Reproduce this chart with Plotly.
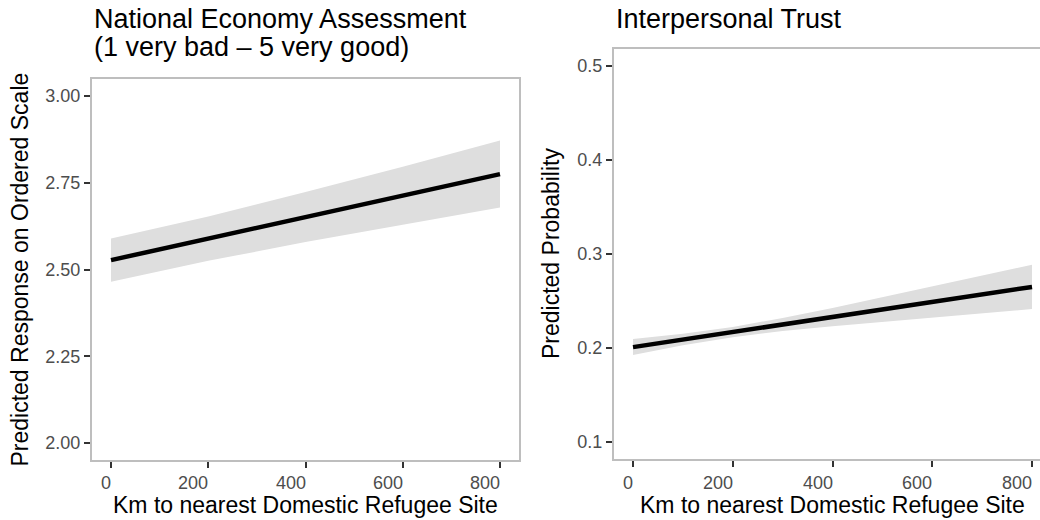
import plotly.graph_objects as go

# Predicted national economy assessment (ordered scale) by distance
econ_km = [0, 200, 400, 600, 800]
econ_fit = [2.527, 2.589, 2.651, 2.713, 2.775]
econ_lo = [2.465, 2.525, 2.579, 2.630, 2.679]
econ_hi = [2.589, 2.653, 2.723, 2.796, 2.872]

# Predicted probability of interpersonal trust by distance
trust_km = [0, 100, 200, 300, 400, 500, 600, 700, 800]
trust_fit = [0.201, 0.209, 0.217, 0.225, 0.233, 0.241, 0.249, 0.257, 0.265]
trust_lo = [0.1925, 0.2029, 0.2116, 0.2180, 0.2233, 0.2280, 0.2326, 0.2371, 0.2415]
trust_hi = [0.2095, 0.2151, 0.2224, 0.2320, 0.2427, 0.2540, 0.2654, 0.2769, 0.2885]

x_ticks = [0, 200, 400, 600, 800]
x_tick_text = ["0", "200", "400", "600", "800"]
econ_ticks = [2.00, 2.25, 2.50, 2.75, 3.00]
econ_tick_text = ["2.00", "2.25", "2.50", "2.75", "3.00"]
trust_ticks = [0.1, 0.2, 0.3, 0.4, 0.5]
trust_tick_text = ["0.1", "0.2", "0.3", "0.4", "0.5"]

FONT = "Liberation Sans, Arial, Helvetica, sans-serif"
RIBBON = "#DEDEDE"
BORDER = "#BEBEBE"
W, H = 1040, 520

fig = go.Figure()


def add_panel(x, fit, lo, hi, xa, ya):
    fig.add_trace(go.Scatter(x=x, y=lo, mode="lines", line=dict(width=0),
                             xaxis=xa, yaxis=ya, hoverinfo="skip", showlegend=False))
    fig.add_trace(go.Scatter(x=x, y=hi, mode="lines", line=dict(width=0),
                             fill="tonexty", fillcolor=RIBBON,
                             xaxis=xa, yaxis=ya, hoverinfo="skip", showlegend=False))
    fig.add_trace(go.Scatter(x=x, y=fit, mode="lines", line=dict(color="black", width=4.5),
                             xaxis=xa, yaxis=ya, showlegend=False))


add_panel(econ_km, econ_fit, econ_lo, econ_hi, "x", "y")
add_panel(trust_km, trust_fit, trust_lo, trust_hi, "x2", "y2")

tickfont = dict(family=FONT, size=18, color="#4D4D4D")
common = dict(showgrid=False, zeroline=False, ticks="outside", ticklen=6, tickwidth=2,
              tickcolor="#333333", showline=True, linecolor=BORDER, linewidth=2,
              tickfont=tickfont)

fig.update_layout(
    width=W, height=H,
    margin=dict(l=0, r=0, t=0, b=0),
    paper_bgcolor="white", plot_bgcolor="white",
    xaxis=dict(domain=[92 / W, 519 / W], range=[-39.1, 839.1], tickvals=x_ticks,
               showticklabels=False, mirror=True, anchor="y", **common),
    yaxis=dict(domain=[1 - 460 / H, 1 - 79 / H], range=[1.951, 3.049],
               tickvals=econ_ticks, ticktext=econ_tick_text, mirror=True,
               anchor="x", **common),
    xaxis2=dict(domain=[614 / W, 1.0], range=[-38.1, 816], tickvals=x_ticks,
                showticklabels=False, mirror=True, anchor="y2", **common),
    yaxis2=dict(domain=[1 - 459 / H, 1 - 49 / H], range=[0.082, 0.518],
                tickvals=trust_ticks, ticktext=trust_tick_text, anchor="x2", **common),
)

title_font = dict(family=FONT, size=27, color="black")
axis_font = dict(family=FONT, size=23, color="black")

annotations = [
    dict(text="National Economy Assessment", x=92 / W, y=1 - 36 / H,
         xanchor="left", yanchor="bottom", font=title_font),
    dict(text="(1 very bad \u2013 5 very good)", x=92 / W, y=1 - 64 / H,
         xanchor="left", yanchor="bottom", font=title_font),
    dict(text="Interpersonal Trust", x=614 / W, y=1 - 36 / H,
         xanchor="left", yanchor="bottom", font=title_font),
    dict(text="Km to nearest Domestic Refugee Site", x=305.5 / W, y=1 - 505 / H,
         xanchor="center", yanchor="middle", font=axis_font),
    dict(text="Km to nearest Domestic Refugee Site", x=832 / W, y=1 - 505 / H,
         xanchor="center", yanchor="middle", font=axis_font),
    dict(text="Predicted Response on Ordered Scale", x=19 / W, y=1 - 269.5 / H,
         xanchor="center", yanchor="middle", textangle=-90, font=axis_font),
    dict(text="Predicted Probability", x=551 / W, y=1 - 254 / H,
         xanchor="center", yanchor="middle", textangle=-90, font=axis_font),
]
for a in annotations:
    a.update(xref="paper", yref="paper")

# x tick labels sit right-aligned against their tick marks
for xref in ("x", "x2"):
    for v, t in zip(x_ticks, x_tick_text):
        annotations.append(dict(text=t, x=v, xref=xref, y=1 - 483 / H, yref="paper",
                                xanchor="right", yanchor="middle", xshift=2,
                                font=tickfont))

for a in annotations:
    a.update(showarrow=False)
fig.update_layout(annotations=annotations)

fig.write_html("out.html")
